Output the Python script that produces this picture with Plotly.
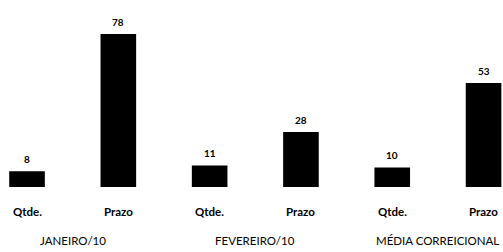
import plotly.graph_objects as go

categories = ["Qtde.", "Prazo", "Qtde.", "Prazo", "Qtde.", "Prazo"]
values = [8, 78, 11, 28, 10, 53]
groups = ["JANEIRO/10", "FEVEREIRO/10", "MÉDIA CORREICIONAL"]

xpos = list(range(len(categories)))
FONT = "Lato"

fig = go.Figure()
fig.add_trace(go.Bar(
    x=xpos, y=values, width=0.39,
    marker=dict(color="#000000", line=dict(width=0)),
    cliponaxis=False,
))

annotations = []
for i, v in enumerate(values):
    annotations.append(dict(x=i, y=v, xref="x", yref="y", yshift=12,
                            text=f"<b>{v}</b>", showarrow=False, yanchor="middle",
                            font=dict(family=FONT, size=10, color="#000")))
for i, c in enumerate(categories):
    annotations.append(dict(x=i, y=0, xref="x", yref="paper", yshift=-24,
                            text=f"<b>{c}</b>", showarrow=False, yanchor="middle",
                            font=dict(family=FONT, size=11.5, color="#000")))
for g, name in enumerate(groups):
    annotations.append(dict(x=2 * g + 0.5, y=0, xref="x", yref="paper", yshift=-53,
                            text=name, showarrow=False, yanchor="middle",
                            font=dict(family=FONT, size=11.5, color="#000")))

fig.update_layout(
    width=503, height=252,
    margin=dict(l=0, r=0, t=0, b=65),
    paper_bgcolor="white", plot_bgcolor="white",
    showlegend=False,
    xaxis=dict(range=[-0.296, 5.213], showticklabels=False, showgrid=False,
               zeroline=False, showline=False, ticks=""),
    yaxis=dict(range=[0, 95.4], showticklabels=False, showgrid=False,
               zeroline=False, showline=False, ticks=""),
    annotations=annotations,
)

fig.write_html("out.html", config={"displayModeBar": False},
               post_script="document.body.style.margin='0';document.body.style.overflow='hidden';")
